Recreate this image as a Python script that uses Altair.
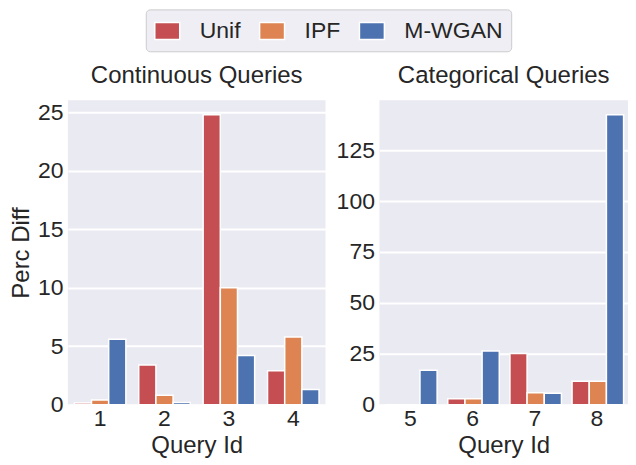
import altair as alt
import pandas as pd

methods = ["Unif", "IPF", "M-WGAN"]
colors = ["#c44e52", "#dd8452", "#4c72b0"]

cont_queries = ["1", "2", "3", "4"]
cont_unif = [0.15, 3.4, 24.8, 2.9]
cont_ipf = [0.4, 0.8, 10.0, 5.8]
cont_mwgan = [5.6, 0.2, 4.2, 1.3]

cat_queries = ["5", "6", "7", "8"]
cat_unif = [0.0, 2.9, 25.1, 11.5]
cat_ipf = [0.0, 2.9, 5.9, 11.5]
cat_mwgan = [16.9, 26.4, 5.6, 142.4]

cont_ticks = [0, 5, 10, 15, 20, 25]
cat_ticks = [0, 25, 50, 75, 100, 125]

FONT = "Liberation Sans"
TXT = "#262626"


def long(queries, series):
    rows = []
    for m, vals in zip(methods, series):
        for q, v in zip(queries, vals):
            rows.append({"query": q, "method": m, "value": v})
    return pd.DataFrame(rows)


legend = alt.Legend(
    title=None, orient="none", legendX=78, legendY=-91, direction="horizontal",
    symbolType="M-1,-0.68H1V0.68H-1Z", symbolSize=625, symbolStrokeColor="white",
    symbolStrokeWidth=1.5, symbolOpacity=1, labelFontSize=23, labelOffset=19,
    columnPadding=16, padding=8, fillColor="#eeeef4", strokeColor="#cccccc",
    cornerRadius=4, labelColor=TXT, labelFont=FONT,
)


def panel(df, queries, ticks, title, width, ytitle=None):
    ymax = max(df["value"]) * 1.05
    yaxis = alt.Axis(values=ticks, title=ytitle) if ytitle else alt.Axis(values=ticks, title=None)
    return alt.Chart(df).mark_bar(stroke="white", strokeWidth=1.5).encode(
        x=alt.X("query:N", sort=queries, title="Query Id",
                scale=alt.Scale(paddingInner=0.2, paddingOuter=0.1),
                axis=alt.Axis(labelAngle=0, grid=False)),
        xOffset=alt.XOffset("method:N", sort=methods,
                            scale=alt.Scale(paddingInner=0, paddingOuter=0)),
        y=alt.Y("value:Q", scale=alt.Scale(domain=[0, ymax], nice=False), axis=yaxis),
        color=alt.Color("method:N", sort=methods,
                        scale=alt.Scale(domain=methods, range=colors), legend=legend),
    ).properties(width=width, height=305, title=title)


left = panel(long(cont_queries, [cont_unif, cont_ipf, cont_mwgan]), cont_queries,
             cont_ticks, "Continuous Queries", 258, "Perc Diff")
right = panel(long(cat_queries, [cat_unif, cat_ipf, cat_mwgan]), cat_queries,
              cat_ticks, "Categorical Queries", 249)

chart = alt.hconcat(left, right, spacing=10,
                    padding={"left": 1, "top": 0, "right": 0, "bottom": 0}).configure_view(
    fill="#eaeaf2", strokeWidth=0
).configure_axis(
    grid=True, gridColor="white", gridWidth=2, domain=False, ticks=False,
    labelFontSize=23, titleFontSize=24, labelColor=TXT, titleColor=TXT,
    labelFont=FONT, titleFont=FONT, titleFontWeight="normal",
    labelPadding=5, titlePadding=4,
).configure_axisX(
    labelPadding=3, titlePadding=3
).configure_title(
    fontSize=24, font=FONT, fontWeight="normal", color=TXT, offset=12
)

chart.save("out.html", embed_options={"renderer": "svg", "actions": False})
